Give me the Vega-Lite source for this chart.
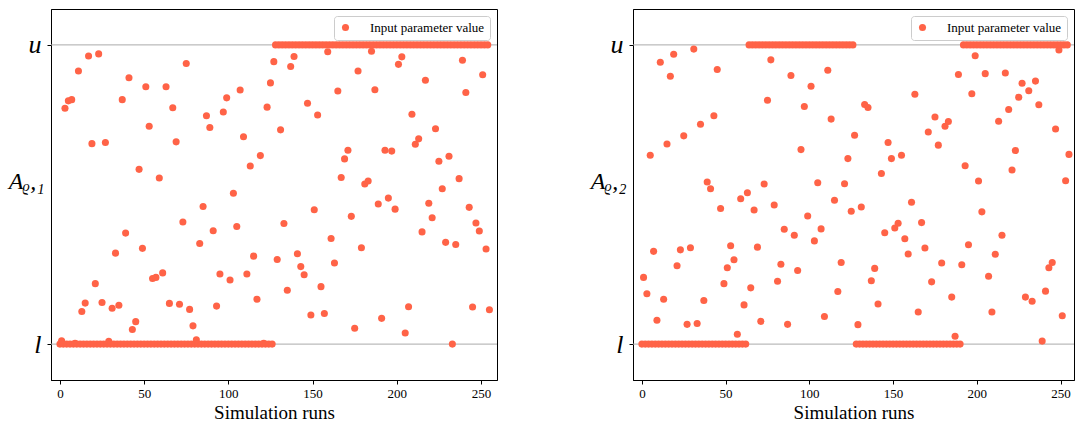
{
"$schema":"https://vega.github.io/schema/vega-lite/v6.json",
"padding":{"left":7,"top":8,"right":1,"bottom":4},
"background":"white",
"config":{"view":{"stroke":"black","strokeWidth":1},"font":"Liberation Serif",
"axis":{"domainColor":"black","tickColor":"black","grid":false,"labelColor":"black","titleColor":"black","labelFont":"Liberation Serif","titleFont":"Liberation Serif","titleFontWeight":"normal","tickSize":4},
"legend":{"labelFont":"Liberation Serif","labelFontSize":13,"labelColor":"black"}},
"spacing":91,
"resolve":{"scale":{"color":"independent"},"legend":{"color":"independent"}},
"datasets":{
"p1":[{"run":0,"value":0},{"run":1,"value":0.011},{"run":2,"value":0},{"run":3,"value":0.788},{"run":4,"value":0},{"run":5,"value":0.813},{"run":6,"value":0},{"run":7,"value":0.817},{"run":8,"value":0},{"run":9,"value":0.003},{"run":10,"value":0},{"run":11,"value":0.913},{"run":12,"value":0},{"run":13,"value":0.109},{"run":14,"value":0},{"run":15,"value":0.137},{"run":16,"value":0},{"run":17,"value":0.963},{"run":18,"value":0},{"run":19,"value":0.670},{"run":20,"value":0},{"run":21,"value":0.202},{"run":22,"value":0},{"run":23,"value":0.970},{"run":24,"value":0},{"run":25,"value":0.139},{"run":26,"value":0},{"run":27,"value":0.674},{"run":28,"value":0},{"run":29,"value":0.009},{"run":30,"value":0},{"run":31,"value":0.120},{"run":32,"value":0},{"run":33,"value":0.304},{"run":34,"value":0},{"run":35,"value":0.130},{"run":36,"value":0},{"run":37,"value":0.817},{"run":38,"value":0},{"run":39,"value":0.371},{"run":40,"value":0},{"run":41,"value":0.890},{"run":42,"value":0},{"run":43,"value":0.049},{"run":44,"value":0},{"run":45,"value":0.075},{"run":46,"value":0},{"run":47,"value":0.584},{"run":48,"value":0},{"run":49,"value":0.320},{"run":50,"value":0},{"run":51,"value":0.860},{"run":52,"value":0},{"run":53,"value":0.728},{"run":54,"value":0},{"run":55,"value":0.219},{"run":56,"value":0},{"run":57,"value":0.223},{"run":58,"value":0},{"run":59,"value":0.555},{"run":60,"value":0},{"run":61,"value":0.238},{"run":62,"value":0},{"run":63,"value":0.860},{"run":64,"value":0},{"run":65,"value":0.136},{"run":66,"value":0},{"run":67,"value":0.790},{"run":68,"value":0},{"run":69,"value":0.676},{"run":70,"value":0},{"run":71,"value":0.133},{"run":72,"value":0},{"run":73,"value":0.408},{"run":74,"value":0},{"run":75,"value":0.938},{"run":76,"value":0},{"run":77,"value":0.116},{"run":78,"value":0},{"run":79,"value":0.061},{"run":80,"value":0},{"run":81,"value":0.014},{"run":82,"value":0},{"run":83,"value":0.336},{"run":84,"value":0},{"run":85,"value":0.460},{"run":86,"value":0},{"run":87,"value":0.763},{"run":88,"value":0},{"run":89,"value":0.724},{"run":90,"value":0},{"run":91,"value":0.379},{"run":92,"value":0},{"run":93,"value":0.127},{"run":94,"value":0},{"run":95,"value":0.234},{"run":96,"value":0},{"run":97,"value":0.776},{"run":98,"value":0},{"run":99,"value":0.823},{"run":100,"value":0},{"run":101,"value":0.214},{"run":102,"value":0},{"run":103,"value":0.504},{"run":104,"value":0},{"run":105,"value":0.393},{"run":106,"value":0},{"run":107,"value":0.849},{"run":108,"value":0},{"run":109,"value":0.693},{"run":110,"value":0},{"run":111,"value":0.234},{"run":112,"value":0},{"run":113,"value":0.595},{"run":114,"value":0},{"run":115,"value":0.294},{"run":116,"value":0},{"run":117,"value":0.150},{"run":118,"value":0},{"run":119,"value":0.630},{"run":120,"value":0},{"run":121,"value":0.003},{"run":122,"value":0},{"run":123,"value":0.792},{"run":124,"value":0},{"run":125,"value":0.873},{"run":126,"value":0},{"run":127,"value":0.944},{"run":128,"value":1},{"run":129,"value":0.283},{"run":130,"value":1},{"run":131,"value":0.716},{"run":132,"value":1},{"run":133,"value":0.403},{"run":134,"value":1},{"run":135,"value":0.180},{"run":136,"value":1},{"run":137,"value":0.928},{"run":138,"value":1},{"run":139,"value":0.961},{"run":140,"value":1},{"run":141,"value":0.302},{"run":142,"value":1},{"run":143,"value":0.259},{"run":144,"value":1},{"run":145,"value":0.232},{"run":146,"value":1},{"run":147,"value":0.805},{"run":148,"value":1},{"run":149,"value":0.097},{"run":150,"value":1},{"run":151,"value":0.449},{"run":152,"value":1},{"run":153,"value":0.766},{"run":154,"value":1},{"run":155,"value":0.192},{"run":156,"value":1},{"run":157,"value":0.102},{"run":158,"value":1},{"run":159,"value":0.977},{"run":160,"value":1},{"run":161,"value":0.353},{"run":162,"value":1},{"run":163,"value":0.271},{"run":164,"value":1},{"run":165,"value":0.846},{"run":166,"value":1},{"run":167,"value":0.557},{"run":168,"value":1},{"run":169,"value":0.619},{"run":170,"value":1},{"run":171,"value":0.648},{"run":172,"value":1},{"run":173,"value":0.427},{"run":174,"value":1},{"run":175,"value":0.053},{"run":176,"value":1},{"run":177,"value":0.913},{"run":178,"value":1},{"run":179,"value":0.322},{"run":180,"value":1},{"run":181,"value":0.535},{"run":182,"value":1},{"run":183,"value":0.545},{"run":184,"value":1},{"run":185,"value":0.979},{"run":186,"value":1},{"run":187,"value":0.850},{"run":188,"value":1},{"run":189,"value":0.468},{"run":190,"value":1},{"run":191,"value":0.086},{"run":192,"value":1},{"run":193,"value":0.648},{"run":194,"value":1},{"run":195,"value":0.488},{"run":196,"value":1},{"run":197,"value":0.645},{"run":198,"value":1},{"run":199,"value":0.451},{"run":200,"value":1},{"run":201,"value":0.935},{"run":202,"value":1},{"run":203,"value":0.960},{"run":204,"value":1},{"run":205,"value":0.037},{"run":206,"value":1},{"run":207,"value":0.125},{"run":208,"value":1},{"run":209,"value":0.768},{"run":210,"value":1},{"run":211,"value":0.668},{"run":212,"value":1},{"run":213,"value":0.686},{"run":214,"value":1},{"run":215,"value":0.375},{"run":216,"value":1},{"run":217,"value":0.882},{"run":218,"value":1},{"run":219,"value":0.471},{"run":220,"value":1},{"run":221,"value":0.422},{"run":222,"value":1},{"run":223,"value":0.720},{"run":224,"value":1},{"run":225,"value":0.611},{"run":226,"value":1},{"run":227,"value":0.519},{"run":228,"value":1},{"run":229,"value":0.340},{"run":230,"value":1},{"run":231,"value":0.628},{"run":232,"value":1},{"run":233,"value":0.000},{"run":234,"value":1},{"run":235,"value":0.333},{"run":236,"value":1},{"run":237,"value":0.553},{"run":238,"value":1},{"run":239,"value":0.949},{"run":240,"value":1},{"run":241,"value":0.841},{"run":242,"value":1},{"run":243,"value":0.457},{"run":244,"value":1},{"run":245,"value":0.124},{"run":246,"value":1},{"run":247,"value":0.405},{"run":248,"value":1},{"run":249,"value":0.378},{"run":250,"value":1},{"run":251,"value":0.900},{"run":252,"value":1},{"run":253,"value":0.318},{"run":254,"value":1},{"run":255,"value":0.115}],
"p2":[{"run":0,"value":0},{"run":1,"value":0.223},{"run":2,"value":0},{"run":3,"value":0.168},{"run":4,"value":0},{"run":5,"value":0.631},{"run":6,"value":0},{"run":7,"value":0.310},{"run":8,"value":0},{"run":9,"value":0.080},{"run":10,"value":0},{"run":11,"value":0.942},{"run":12,"value":0},{"run":13,"value":0.150},{"run":14,"value":0},{"run":15,"value":0.669},{"run":16,"value":0},{"run":17,"value":0.895},{"run":18,"value":0},{"run":19,"value":0.969},{"run":20,"value":0},{"run":21,"value":0.262},{"run":22,"value":0},{"run":23,"value":0.315},{"run":24,"value":0},{"run":25,"value":0.696},{"run":26,"value":0},{"run":27,"value":0.066},{"run":28,"value":0},{"run":29,"value":0.322},{"run":30,"value":0},{"run":31,"value":0.986},{"run":32,"value":0},{"run":33,"value":0.069},{"run":34,"value":0},{"run":35,"value":0.735},{"run":36,"value":0},{"run":37,"value":0.146},{"run":38,"value":0},{"run":39,"value":0.542},{"run":40,"value":0},{"run":41,"value":0.519},{"run":42,"value":0},{"run":43,"value":0.763},{"run":44,"value":0},{"run":45,"value":0.918},{"run":46,"value":0},{"run":47,"value":0.453},{"run":48,"value":0},{"run":49,"value":0.202},{"run":50,"value":0},{"run":51,"value":0.255},{"run":52,"value":0},{"run":53,"value":0.329},{"run":54,"value":0},{"run":55,"value":0.282},{"run":56,"value":0},{"run":57,"value":0.033},{"run":58,"value":0},{"run":59,"value":0.486},{"run":60,"value":0},{"run":61,"value":0.131},{"run":62,"value":0},{"run":63,"value":0.506},{"run":64,"value":1},{"run":65,"value":0.188},{"run":66,"value":1},{"run":67,"value":0.448},{"run":68,"value":1},{"run":69,"value":0.324},{"run":70,"value":1},{"run":71,"value":0.076},{"run":72,"value":1},{"run":73,"value":0.535},{"run":74,"value":1},{"run":75,"value":0.815},{"run":76,"value":1},{"run":77,"value":0.950},{"run":78,"value":1},{"run":79,"value":0.465},{"run":80,"value":1},{"run":81,"value":0.210},{"run":82,"value":1},{"run":83,"value":0.267},{"run":84,"value":1},{"run":85,"value":0.384},{"run":86,"value":1},{"run":87,"value":0.066},{"run":88,"value":1},{"run":89,"value":0.898},{"run":90,"value":1},{"run":91,"value":0.364},{"run":92,"value":1},{"run":93,"value":0.246},{"run":94,"value":1},{"run":95,"value":0.650},{"run":96,"value":1},{"run":97,"value":0.794},{"run":98,"value":1},{"run":99,"value":0.428},{"run":100,"value":1},{"run":101,"value":0.862},{"run":102,"value":1},{"run":103,"value":0.345},{"run":104,"value":1},{"run":105,"value":0.539},{"run":106,"value":1},{"run":107,"value":0.385},{"run":108,"value":1},{"run":109,"value":0.092},{"run":110,"value":1},{"run":111,"value":0.915},{"run":112,"value":1},{"run":113,"value":0.752},{"run":114,"value":1},{"run":115,"value":0.481},{"run":116,"value":1},{"run":117,"value":0.176},{"run":118,"value":1},{"run":119,"value":0.273},{"run":120,"value":1},{"run":121,"value":0.536},{"run":122,"value":1},{"run":123,"value":0.620},{"run":124,"value":1},{"run":125,"value":0.444},{"run":126,"value":1},{"run":127,"value":0.698},{"run":128,"value":0},{"run":129,"value":0.065},{"run":130,"value":0},{"run":131,"value":0.458},{"run":132,"value":0},{"run":133,"value":0.801},{"run":134,"value":0},{"run":135,"value":0.791},{"run":136,"value":0},{"run":137,"value":0.212},{"run":138,"value":0},{"run":139,"value":0.253},{"run":140,"value":0},{"run":141,"value":0.134},{"run":142,"value":0},{"run":143,"value":0.570},{"run":144,"value":0},{"run":145,"value":0.372},{"run":146,"value":0},{"run":147,"value":0.674},{"run":148,"value":0},{"run":149,"value":0.620},{"run":150,"value":0},{"run":151,"value":0.388},{"run":152,"value":0},{"run":153,"value":0.404},{"run":154,"value":0},{"run":155,"value":0.631},{"run":156,"value":0},{"run":157,"value":0.352},{"run":158,"value":0},{"run":159,"value":0.301},{"run":160,"value":0},{"run":161,"value":0.474},{"run":162,"value":0},{"run":163,"value":0.835},{"run":164,"value":0},{"run":165,"value":0.107},{"run":166,"value":0},{"run":167,"value":0.406},{"run":168,"value":0},{"run":169,"value":0.321},{"run":170,"value":0},{"run":171,"value":0.709},{"run":172,"value":0},{"run":173,"value":0.208},{"run":174,"value":0},{"run":175,"value":0.759},{"run":176,"value":0},{"run":177,"value":0.665},{"run":178,"value":0},{"run":179,"value":0.271},{"run":180,"value":0},{"run":181,"value":0.728},{"run":182,"value":0},{"run":183,"value":0.744},{"run":184,"value":0},{"run":185,"value":0.157},{"run":186,"value":0},{"run":187,"value":0.026},{"run":188,"value":0},{"run":189,"value":0.901},{"run":190,"value":0},{"run":191,"value":0.265},{"run":192,"value":1},{"run":193,"value":0.596},{"run":194,"value":1},{"run":195,"value":0.332},{"run":196,"value":1},{"run":197,"value":0.837},{"run":198,"value":1},{"run":199,"value":0.964},{"run":200,"value":1},{"run":201,"value":0.545},{"run":202,"value":1},{"run":203,"value":0.442},{"run":204,"value":1},{"run":205,"value":0.904},{"run":206,"value":1},{"run":207,"value":0.227},{"run":208,"value":1},{"run":209,"value":0.107},{"run":210,"value":1},{"run":211,"value":0.300},{"run":212,"value":1},{"run":213,"value":0.745},{"run":214,"value":1},{"run":215,"value":0.364},{"run":216,"value":1},{"run":217,"value":0.906},{"run":218,"value":1},{"run":219,"value":0.784},{"run":220,"value":1},{"run":221,"value":0.582},{"run":222,"value":1},{"run":223,"value":0.647},{"run":224,"value":1},{"run":225,"value":0.825},{"run":226,"value":1},{"run":227,"value":0.872},{"run":228,"value":1},{"run":229,"value":0.157},{"run":230,"value":1},{"run":231,"value":0.847},{"run":232,"value":1},{"run":233,"value":0.143},{"run":234,"value":1},{"run":235,"value":0.879},{"run":236,"value":1},{"run":237,"value":0.800},{"run":238,"value":1},{"run":239,"value":0.010},{"run":240,"value":1},{"run":241,"value":0.177},{"run":242,"value":1},{"run":243,"value":0.255},{"run":244,"value":1},{"run":245,"value":0.273},{"run":246,"value":1},{"run":247,"value":0.719},{"run":248,"value":1},{"run":249,"value":0.983},{"run":250,"value":1},{"run":251,"value":0.095},{"run":252,"value":1},{"run":253,"value":0.546},{"run":254,"value":1},{"run":255,"value":0.634}],
"levels":[{"level":0},{"level":1}]
},
"hconcat":[
{"width":446,"height":371,
"layer":[
{"data":{"name":"levels"},"mark":{"type":"rule","color":"#aaaaaa","strokeWidth":1},
"encoding":{"y":{"field":"level","type":"quantitative","scale":{"domain":[-0.12,1.12],"nice":false,"zero":false},
"axis":{"values":[0,1],"labelExpr":"datum.value==1?'u':'l'","labelFontSize":26,"labelFontStyle":"italic","labelPadding":6,"title":"Aᵨ,₁","titleAngle":0,"titleFontSize":24,"titleFontStyle":"italic","titleAlign":"right","titleBaseline":"middle","titleX":-7,"titleY":172}}}},
{"data":{"name":"p1"},"mark":{"type":"circle","size":50,"opacity":1},
"encoding":{
"x":{"field":"run","type":"quantitative","scale":{"domain":[-5.3,259.5],"nice":false,"zero":false},"axis":{"values":[0,50,100,150,200,250],"title":"Simulation runs","labelFontSize":13,"titleFontSize":19,"labelPadding":3,"titlePadding":3}},
"y":{"field":"value","type":"quantitative","scale":{"domain":[-0.12,1.12],"nice":false,"zero":false},
"axis":{"values":[0,1],"labelExpr":"datum.value==1?'u':'l'","labelFontSize":26,"labelFontStyle":"italic","labelPadding":6,"title":"Aᵨ,₁","titleAngle":0,"titleFontSize":24,"titleFontStyle":"italic","titleAlign":"right","titleBaseline":"middle","titleX":-7,"titleY":172}},
"color":{"datum":"Input parameter value","type":"nominal","scale":{"range":["#ff6347"]},
"legend":{"title":null,"orient":"top-right","offset":7,"fillColor":"white","strokeColor":"#cccccc","cornerRadius":3,"padding":5,"symbolSize":50,"symbolType":"circle","labelOffset":18,"labelFontSize":13}}}}
]},
{"width":441,"height":371,
"layer":[
{"data":{"name":"levels"},"mark":{"type":"rule","color":"#aaaaaa","strokeWidth":1},
"encoding":{"y":{"field":"level","type":"quantitative","scale":{"domain":[-0.12,1.12],"nice":false,"zero":false},
"axis":{"values":[0,1],"labelExpr":"datum.value==1?'u':'l'","labelFontSize":26,"labelFontStyle":"italic","labelPadding":6,"title":"Aᵨ,₂","titleAngle":0,"titleFontSize":24,"titleFontStyle":"italic","titleAlign":"right","titleBaseline":"middle","titleX":-7,"titleY":172}}}},
{"data":{"name":"p2"},"mark":{"type":"circle","size":50,"opacity":1},
"encoding":{
"x":{"field":"run","type":"quantitative","scale":{"domain":[-5.3,258],"nice":false,"zero":false},"axis":{"values":[0,50,100,150,200,250],"title":"Simulation runs","labelFontSize":13,"titleFontSize":19,"labelPadding":3,"titlePadding":3}},
"y":{"field":"value","type":"quantitative","scale":{"domain":[-0.12,1.12],"nice":false,"zero":false},
"axis":{"values":[0,1],"labelExpr":"datum.value==1?'u':'l'","labelFontSize":26,"labelFontStyle":"italic","labelPadding":6,"title":"Aᵨ,₂","titleAngle":0,"titleFontSize":24,"titleFontStyle":"italic","titleAlign":"right","titleBaseline":"middle","titleX":-7,"titleY":172}},
"color":{"datum":"Input parameter value","type":"nominal","scale":{"range":["#ff6347"]},
"legend":{"title":null,"orient":"top-right","offset":7,"fillColor":"white","strokeColor":"#cccccc","cornerRadius":3,"padding":5,"symbolSize":50,"symbolType":"circle","labelOffset":18,"labelFontSize":13}}}}
]}
]
}
